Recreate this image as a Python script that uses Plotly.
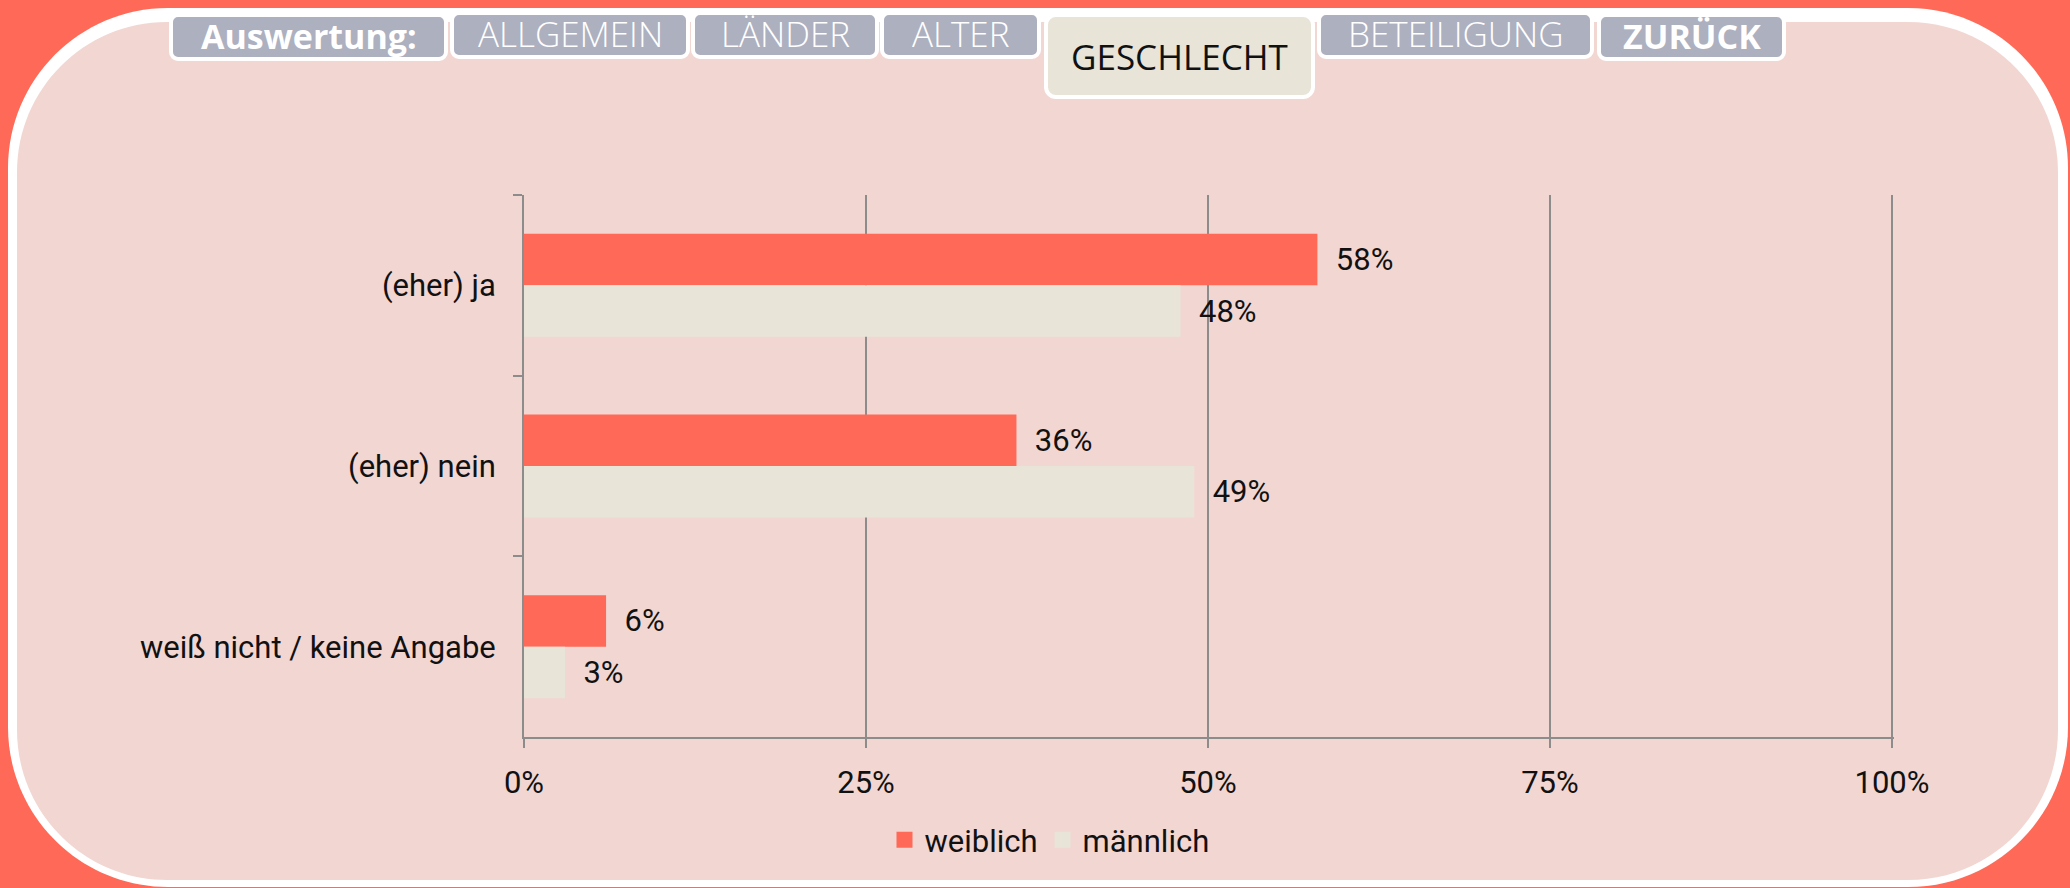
import plotly.graph_objects as go

# ---------------- data ----------------
categories = ["(eher) ja", "(eher) nein", "weiß nicht / keine Angabe"]
series_names = ["weiblich", "männlich"]
weiblich = [0.58, 0.36, 0.06]
maennlich = [0.48, 0.49, 0.03]
x_tick_vals = [0, 0.25, 0.5, 0.75, 1.0]
x_tick_labels = ["0%", "25%", "50%", "75%", "100%"]
tab_labels = ["Auswertung:", "ALLGEMEIN", "LÄNDER", "ALTER", "GESCHLECHT", "BETEILIGUNG", "ZURÜCK"]

# ---------------- styles / geometry ----------------
W, H = 2070, 888
L, R, T, B = 524, 176, 195, 151
CORAL = "#FF6957"
BEIGE = "#E8E4D8"
PINK = "#F2D6D2"
GRAY = "#8C8C8C"
TABGRAY = "#ADB0BF"
FONT = "Roboto, Lato, sans-serif"
TABFONT = "Open Sans, Noto Sans, sans-serif"
FS = 31

PW, PH = W - L - R, H - T - B


def px(x, y):
    return (x - L) / PW, (H - B - y) / PH


def rrect(x0, y0, x1, y1, r):
    k = 0.5523 * r
    pts = [
        ("M", [(x0 + r, y0)]),
        ("L", [(x1 - r, y0)]),
        ("C", [(x1 - r + k, y0), (x1, y0 + r - k), (x1, y0 + r)]),
        ("L", [(x1, y1 - r)]),
        ("C", [(x1, y1 - r + k), (x1 - r + k, y1), (x1 - r, y1)]),
        ("L", [(x0 + r, y1)]),
        ("C", [(x0 + r - k, y1), (x0, y1 - r + k), (x0, y1 - r)]),
        ("L", [(x0, y0 + r)]),
        ("C", [(x0, y0 + r - k), (x0 + r - k, y0), (x0 + r, y0)]),
    ]
    s = ""
    for cmd, ps in pts:
        s += cmd + " ".join("%.5f,%.5f" % px(a, b) for a, b in ps)
    return s + "Z"


fig = go.Figure()
for name, vals, col in ((series_names[0], weiblich, CORAL), (series_names[1], maennlich, BEIGE)):
    fig.add_trace(go.Bar(
        y=categories, x=vals, name=name, orientation="h",
        marker=dict(color=col, line=dict(width=0)),
        texttemplate="\u00a0\u00a0%{x:.0%}", textposition="outside",
        textfont=dict(family=FONT, size=FS, color="#111111"),
        cliponaxis=False, constraintext="none", hoverinfo="skip",
        showlegend=False,
    ))
# legend entries (square swatches)
for name, col in ((series_names[0], CORAL), (series_names[1], BEIGE)):
    fig.add_trace(go.Scatter(
        x=[None], y=[None], mode="markers", name=name,
        marker=dict(symbol="square", size=18, color=col, line=dict(width=0)),
        showlegend=True, hoverinfo="skip",
    ))

shapes = []
shapes.append(dict(type="path", xref="paper", yref="paper", layer="below",
                   path=rrect(8, 8, 2068, 887, 160), fillcolor="white", line=dict(width=0)))
shapes.append(dict(type="path", xref="paper", yref="paper", layer="below",
                   path=rrect(17, 22, 2058, 880, 150), fillcolor=PINK, line=dict(width=0)))

tab_boxes = [
    (171, 15, 446, 59), (452, 13, 688, 57), (693, 13, 877, 57), (882, 13, 1039, 57),
    (1046, 15, 1313, 97), (1319, 13, 1592, 57), (1599, 15, 1784, 59),
]
annotations = []
for lab, (x0, y0, x1, y1) in zip(tab_labels, tab_boxes):
    active = lab == "GESCHLECHT"
    shapes.append(dict(type="path", xref="paper", yref="paper", layer="below",
                       path=rrect(x0, y0, x1, y1, 10 if active else 7),
                       fillcolor=BEIGE if active else TABGRAY,
                       line=dict(color="white", width=4)))
    bold = lab in ("Auswertung:", "ZURÜCK")
    cx = (x0 + x1) / 2
    cy = 56 if active else (y0 + y1) / 2 - 1
    ax, ay = px(cx, cy)
    annotations.append(dict(
        x=ax, y=ay, xref="paper", yref="paper", text=lab, showarrow=False,
        xanchor="center", yanchor="middle",
        font=dict(family=TABFONT, size=34 if bold else 35,
                  color="#111111" if active else "white",
                  weight=700 if bold else (400 if active else 300)),
    ))

fig.update_layout(
    width=W, height=H,
    margin=dict(l=L, r=R, t=T, b=B, pad=0),
    paper_bgcolor=CORAL,
    plot_bgcolor="rgba(0,0,0,0)",
    barmode="group", bargap=0.43, bargroupgap=0,
    shapes=shapes, annotations=annotations,
    font=dict(family=FONT, size=FS, color="#111111"),
    showlegend=True,
    legend=dict(orientation="h", xref="container", yref="container",
                x=0.507, y=0.054, xanchor="center", yanchor="middle",
                font=dict(family=FONT, size=FS, color="#111111"),
                bgcolor="rgba(0,0,0,0)", traceorder="normal", itemsizing="trace",
                itemwidth=30),
    xaxis=dict(range=[0, 1.0015], tickvals=x_tick_vals, ticktext=x_tick_labels,
               showgrid=True, gridcolor=GRAY, gridwidth=2, zeroline=False,
               showline=True, linecolor=GRAY, linewidth=2,
               ticks="outside", ticklen=9, tickwidth=2, tickcolor=GRAY,
               ticklabelstandoff=8, tickfont=dict(family=FONT, size=FS, color="#111111"),
               fixedrange=True),
    yaxis=dict(type="category", autorange="reversed", tickson="boundaries",
               showgrid=False, zeroline=False,
               showline=True, linecolor=GRAY, linewidth=2,
               ticks="outside", ticklen=9, tickwidth=2, tickcolor=GRAY,
               ticklabelstandoff=20, tickfont=dict(family=FONT, size=FS, color="#111111"),
               fixedrange=True),
)

fig.write_html("out.html", config={"displayModeBar": False},
               post_script="document.body.style.margin='0';document.body.style.overflow='hidden';")
